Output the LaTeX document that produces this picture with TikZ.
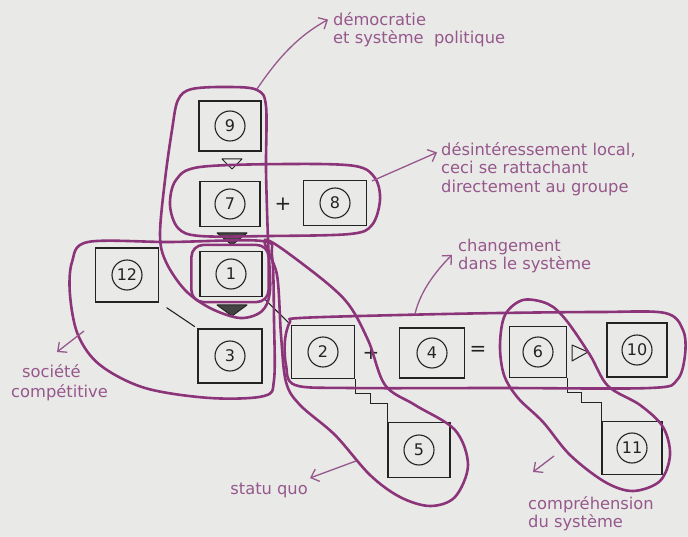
\documentclass[tikz,border=0pt]{standalone}
\usepackage{fontspec}
\newfontfamily\lblfont{DejaVu Sans}
\usetikzlibrary{arrows.meta,calc}
\definecolor{bg}{RGB}{233,233,231}
\definecolor{loopc}{RGB}{140,52,122}
\definecolor{txtc}{RGB}{150,88,140}
\definecolor{ink}{RGB}{35,35,35}
\begin{document}
\begin{tikzpicture}[x=1pt,y=-1pt,
  numbox/.style={draw=ink, line width=1.2pt, minimum width=62pt, minimum height=50pt, inner sep=0pt,
    font=\lblfont\fontsize{16}{18}\selectfont, text=ink,
    path picture={\draw[ink, line width=1.1pt] (path picture bounding box.center) circle[radius=15pt];}},
  loopline/.style={draw=loopc, line width=2.6pt},
  lbl/.style={anchor=base west, inner sep=0pt, text=txtc, font=\lblfont\fontsize{16.3}{19}\selectfont},
  callout/.style={draw=txtc, line width=1.3pt, -{Straight Barb[length=7pt,width=13pt,line width=1.3pt]}},
  sign/.style={inner sep=0pt, text=ink, font=\lblfont\fontsize{20}{22}\selectfont},
  link/.style={draw=ink, line width=1.1pt},
  tri/.style={draw=ink, line width=1pt, line join=round}
]
\useasboundingbox (0,0) rectangle (688,537);
\fill[bg] (0,0) rectangle (688,537);

% boxes
\node[numbox] (b9)  at (230,126) {9};
\node[numbox, minimum width=60pt, minimum height=45pt] (b7)  at (230,204) {7};
\node[numbox, minimum width=63pt, minimum height=45pt] (b8)  at (335,203) {8};
\node[numbox, minimum height=45pt] (b1)  at (231,274) {1};
\node[numbox, minimum width=64pt, minimum height=54pt] (b3)  at (230,356) {3};
\node[numbox, minimum width=63pt, minimum height=54pt] (b12) at (127,275) {12};
\node[numbox, minimum width=63pt, minimum height=53pt] (b2)  at (323,352) {2};
\node[numbox, minimum width=65pt, minimum height=50pt] (b4)  at (432,353) {4};
\node[numbox, minimum width=57pt, minimum height=51pt] (b6)  at (538,352) {6};
\node[numbox, minimum width=60pt, minimum height=54pt] (b10) at (637,350) {10};
\node[numbox, minimum width=62pt, minimum height=55pt] (b5)  at (419,450) {5};
\node[numbox, minimum width=60pt, minimum height=53pt] (b11) at (632,448) {11};

% signs
\node[sign] (p78) at (283,204) {+};
\node[sign] (p24) at (371,353) {+};
\node[sign] (e46) at (478,351) {=};

% triangles between vertical boxes
\filldraw[tri, fill=bg] (222,159) -- (242,159) -- (232,169) -- cycle;
\filldraw[tri, fill=ink!85] (217,233) -- (247,233) -- (232,245) -- cycle;
\filldraw[tri, fill=ink!85] (217,305) -- (247,305) -- (232,316) -- cycle;
\draw[tri] (572,345) -- (572,361) -- (588,352) -- cycle;

% links
\draw[link, shorten <=9pt, shorten >=3pt] (b12.south east) -- (b3.north west);
\draw[link, shorten <=3pt, shorten >=3pt] (b1.south east) -- (b2.north west);
\draw[link] (b2.south east) -- ++(0,14) -- ++(15,0) -- ++(0,10) -| (b5.north west);
\draw[link] (b6.south east) -- ++(0,14) -- ++(14,0) -- ++(0,10) -| (b11.north west);

% loops
% A: democratie (9,7,1)
\draw[loopline] plot[smooth cycle, tension=0.55] coordinates {
  (178,100) (192,89) (230,87) (257,90) (266,106) (266,170) (268,240) (270,290)
  (262,311) (240,318) (210,308) (185,290) (166,262) (160,235) (165,180) (172,130)};
% B: desinteressement (7+8)
\draw[loopline] plot[smooth cycle, tension=0.55] coordinates {
  (200,167) (290,164) (355,166) (375,178) (380,200) (372,225) (350,234)
  (270,236) (200,236) (178,228) (170,205) (176,180)};
% tight loop around 1
\draw[loopline, rounded corners=12pt] ($(b1.north west)+(-8,-6)$) rectangle ($(b1.south east)+(6,5)$);
% D: societe competitive (12,1,3)
\draw[loopline] plot[smooth cycle, tension=0.55] coordinates {
  (88,242) (170,242) (262,241) (272,256) (274,320) (274,380) (264,396)
  (210,398) (145,388) (100,365) (78,335) (70,295) (72,262)};
% E: statu quo (2,5)
\draw[loopline] plot[smooth cycle, tension=0.55] coordinates {
  (265,240) (300,262) (345,300) (368,340) (385,385) (415,405) (455,430)
  (468,465) (455,497) (430,506) (400,497) (370,475) (335,435) (300,405)
  (286,382) (281,335) (277,275)};
% C: changement (2+4=6,10)
\draw[loopline] plot[smooth cycle, tension=0.55] coordinates {
  (300,318) (400,315) (500,313) (600,312) (665,313) (683,330) (685,355)
  (677,380) (650,388) (500,388) (350,388) (295,385) (286,365) (285,340) (290,322)};
% F: comprehension (6,11)
\draw[loopline] plot[smooth cycle, tension=0.55] coordinates {
  (523,300) (548,304) (566,320) (590,355) (608,386) (640,405) (663,427)
  (670,455) (660,481) (633,491) (605,482) (570,455) (543,422) (518,398)
  (504,375) (500,345) (505,315)};

% callout anchors
\coordinate (aA) at (257,89);
\coordinate (aB) at (372,181);
\coordinate (aC) at (415,314);
\coordinate (aD) at (84,331);
\coordinate (aE) at (356,461);
\coordinate (aF) at (554,456);

% labels
\node[lbl] (l1a) at (333,26) {démocratie};
\node[lbl] (l1b) at (333,44) {et système~ politique};
\node[lbl] (l2a) at (441,156) {désintéressement local,};
\node[lbl] (l2b) at (441,174) {ceci se rattachant};
\node[lbl] (l2c) at (441,193) {directement au groupe};
\node[lbl] (l3a) at (458,252) {changement};
\node[lbl] (l3b) at (458,270) {dans le système};
\node[lbl] (l4a) at (22,377) {société};
\node[lbl] (l4b) at (11,397) {compétitive};
\node[lbl, anchor=base east] (l5) at (308,494) {statu quo};
\node[lbl] (l6a) at (528,509) {compréhension};
\node[lbl] (l6b) at (528,527) {du système};

% callout arrows
\draw[callout] (aA) .. controls (280,55) and (300,35) .. ($(l1a.west)+(-5,0)$);
\draw[callout] (aB) -- ($(l2a.west)+(-4,2)$);
\draw[callout] (aC) .. controls (420,292) and (435,272) .. ($(l3b.north west)+(-6,-2)$);
\draw[callout] (aD) -- ++(-27,21);
\draw[callout] (aE) -- ++(-46,17);
\draw[callout] (aF) -- ++(-21,16);
\end{tikzpicture}
\end{document}
